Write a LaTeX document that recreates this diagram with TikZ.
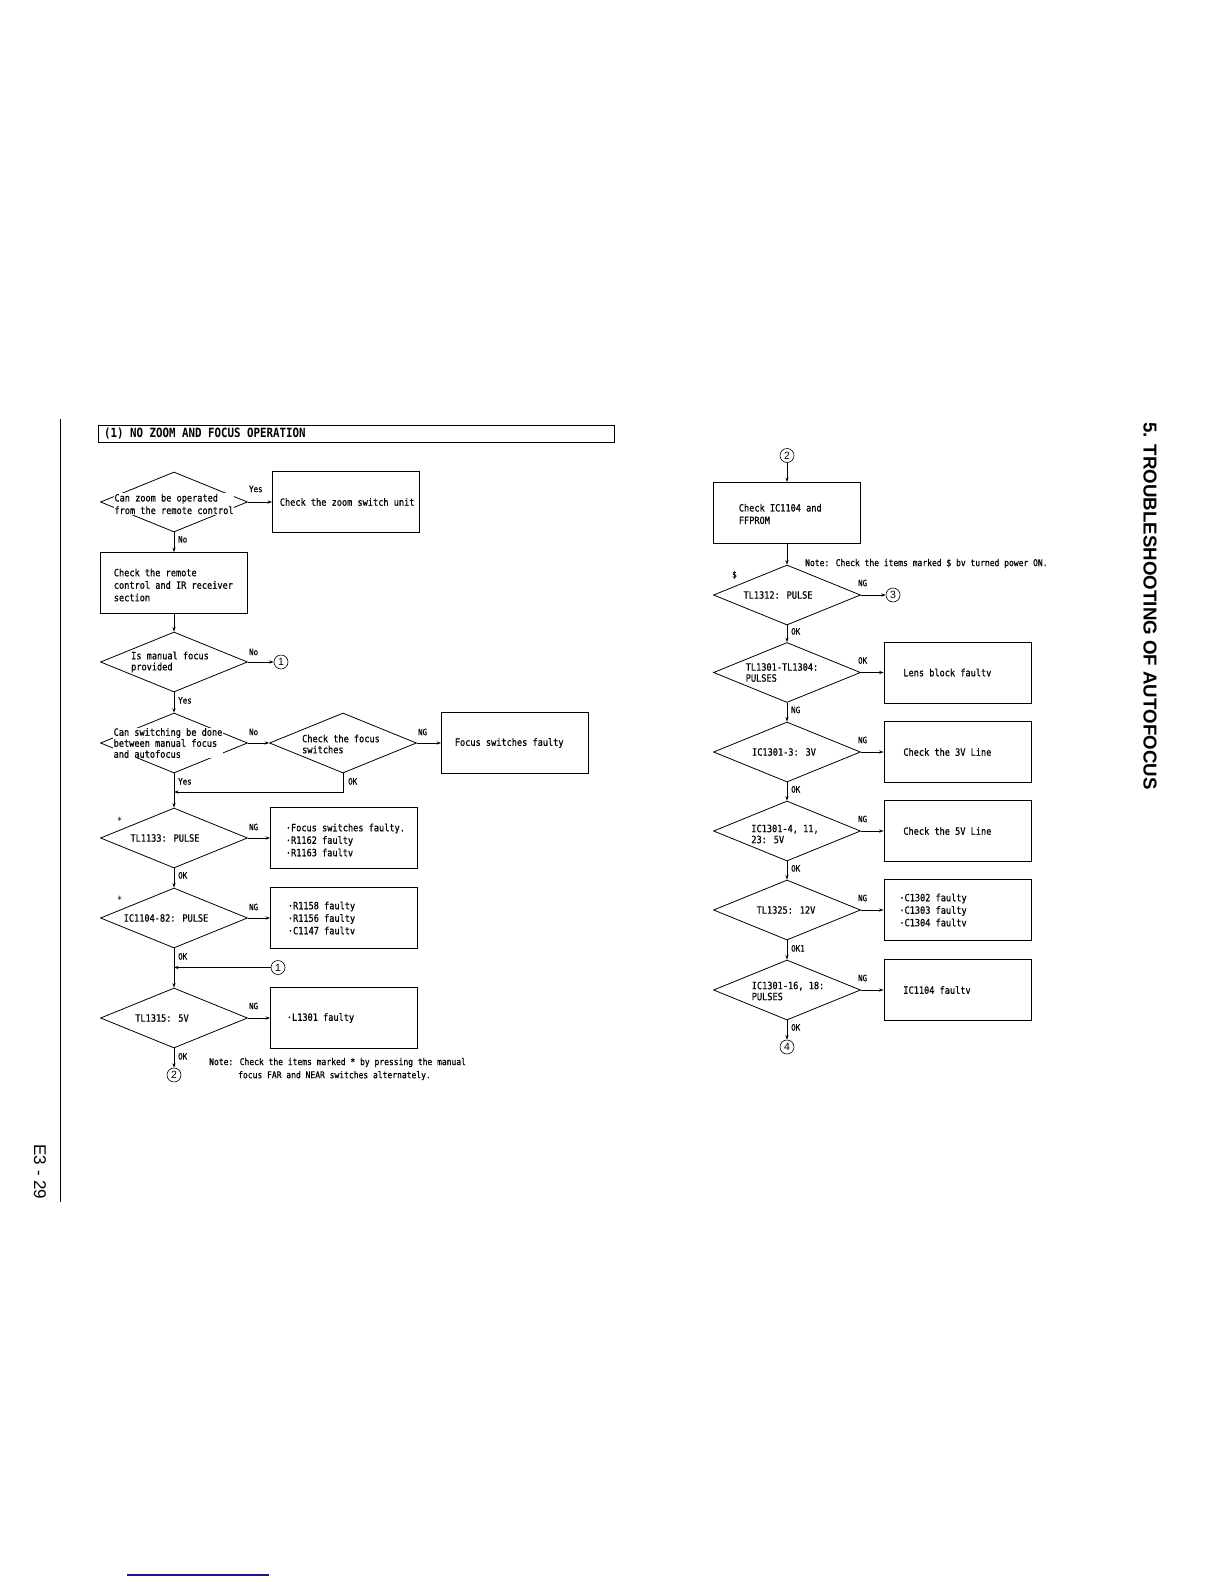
\documentclass[tikz,border=0pt]{standalone}
\usepackage{fontspec}
\newfontfamily\monof[FakeStretch=0.86,FakeBold=0.6]{DejaVu Sans Mono}
\newfontfamily\titlef[FakeStretch=0.85]{DejaVu Sans Mono}
\newfontfamily\sidef{Liberation Sans}
\usetikzlibrary{shapes.geometric,arrows.meta,calc}
\definecolor{linkblue}{RGB}{25,25,140}
\begin{document}
\begin{tikzpicture}[x=1pt,y=-1pt,
  dia/.style={draw, diamond, minimum width=147pt, minimum height=60pt, inner sep=0pt, line width=0.8pt},
  box/.style={draw, rectangle, minimum width=147pt, minimum height=61pt, inner sep=0pt, line width=0.9pt},
  txt/.style={font=\monof\fontsize{10}{12.5}\selectfont, align=left, inner sep=0.6pt},
  txtt/.style={font=\monof\fontsize{10}{11}\selectfont, align=left, inner sep=0.6pt},
  dtxt/.style={txt, fill=white},
  dtxtt/.style={txtt, fill=white},
  notetxt/.style={font=\monof\fontsize{9.3}{10}\selectfont, inner sep=0pt, anchor=west},
  lbl/.style={font=\monof\fontsize{8.7}{9}\selectfont, inner sep=0pt, anchor=west},
  starmark/.style={font=\titlef\fontsize{10}{10}\selectfont, inner sep=0pt, anchor=west},
  circ/.style={draw, circle, minimum size=14pt, inner sep=0pt, line width=0.6pt, font=\sidef\fontsize{10.5}{10.5}\selectfont},
  arr/.style={-{Stealth[length=4.5pt,width=3.2pt]}, line width=0.7pt}
]
\useasboundingbox (0,0) rectangle (1224,1584);

% page furniture
\draw[line width=1.3pt] (60.6,419) -- (60.6,1202);
\node[rotate=-90, font=\sidef\bfseries\fontsize{18.7}{20}\selectfont, inner sep=0pt] (side) at (1150,606) {5. TROUBLESHOOTING OF AUTOFOCUS};
\node[rotate=-90, font=\sidef\fontsize{17}{18}\selectfont, inner sep=0pt] (page) at (40,1172) {E3 - 29};
\draw[linkblue, line width=1.4pt] (127,1575) -- (269,1575);

% title
\node[draw, line width=1pt, minimum width=516pt, minimum height=17pt, anchor=north west, inner sep=0pt] (titlebox) at (98,425) {};
\node[anchor=west, font=\titlef\bfseries\fontsize{12.7}{13}\selectfont, inner sep=0pt] (title) at (104,434) {(1) NO ZOOM AND FOCUS OPERATION};

% ---------- left column ----------
\node[dia] (d1) at (174,502) {};
\node[dtxt] (td1) at ($(d1.center)+(0,2)$) {Can zoom be operated\\from the remote control};
\node[box] (b1) at (346,502) {};
\node[txt, anchor=west] (tb1) at ($(b1.west)+(7,0)$) {Check the zoom switch unit};

\node[box] (b2) at (174,583) {};
\node[txt, anchor=west] (tb2) at ($(b2.west)+(13,2)$) {Check the remote\\control and IR receiver\\section};

\node[dia] (d2) at (174,662) {};
\node[dtxtt] (td2) at ($(d2.center)+(-4,0)$) {Is manual focus\\provided};
\node[circ] (c1a) at (281,662) {1};

\node[dia] (d3) at (174,743) {};
\node[dtxtt] (td3) at ($(d3.center)+(-6,0)$) {Can switching be done\\between manual focus\\and autofocus};

\node[dia] (d4) at (343,743) {};
\node[dtxtt] (td4) at ($(d4.center)+(-2,1)$) {Check the focus\\switches};
\node[box] (b3) at (515,743) {};
\node[txt, anchor=west] (tb3) at ($(b3.west)+(13,0)$) {Focus switches faulty};
\coordinate (k1) at (343,792);
\coordinate (k2) at (174,792);

\node[dia] (d5) at (174,838) {};
\node[dtxt] (td5) at ($(d5.center)+(-9,0)$) {TL1133: PULSE};
\node[starmark] (s5) at (117,821) {*};
\node[box] (b5) at (344,838) {};
\node[txt, anchor=west] (tb5) at ($(b5.west)+(15,2)$) {·Focus switches faulty.\\·R1162 faulty\\·R1163 faultv};

\node[dia] (d6) at (174,918) {};
\node[dtxt] (td6) at ($(d6.center)+(-8,0)$) {IC1104-82: PULSE};
\node[starmark] (s6) at (117,900) {*};
\node[box] (b6) at (344,918) {};
\node[txt, anchor=west] (tb6) at ($(b6.west)+(17,0)$) {·R1158 faulty\\·R1156 faulty\\·C1147 faultv};

\node[circ] (c1b) at (278,967.5) {1};
\coordinate (j1) at (174,967.5);

\node[dia] (d7) at (174,1018) {};
\node[dtxt] (td7) at ($(d7.center)+(-12,0)$) {TL1315: 5V};
\node[box] (b7) at (344,1018) {};
\node[txt, anchor=west] (tb7) at ($(b7.west)+(16,0)$) {·L1301 faulty};
\node[circ] (c2a) at (174,1075) {2};

\node[notetxt] (n1a) at (209,1062.5) {Note: Check the items marked * by pressing the manual};
\node[notetxt] (n1b) at (238,1075.6) {focus FAR and NEAR switches alternately.};

% left connectors
\draw[arr] (d1.east) -- (b1.west);
\draw[arr] (d1.south) -- (b2.north);
\draw[arr] (b2.south) -- (d2.north);
\draw[arr] (d2.east) -- (c1a.west);
\draw[arr] (d2.south) -- (d3.north);
\draw[arr] (d3.east) -- (d4.west);
\draw[arr] (d4.east) -- (b3.west);
\draw[arr] (d4.south) -- (k1) -- (k2);
\draw[arr] (d3.south) -- (d5.north);
\draw[arr] (d5.east) -- (b5.west);
\draw[arr] (d5.south) -- (d6.north);
\draw[arr] (d6.east) -- (b6.west);
\draw[arr] (d6.south) -- (d7.north);
\draw[arr] (c1b.west) -- (j1);
\draw[arr] (d7.east) -- (b7.west);
\draw[arr] (d7.south) -- (c2a.north);

% left labels
\node[lbl] (l1) at ($(d1.east)+(1,-13)$) {Yes};
\node[lbl] (l2) at ($(d1.south)+(4,7)$) {No};
\node[lbl] (l3) at ($(d2.east)+(1,-10)$) {No};
\node[lbl] (l4) at ($(d2.south)+(4,8)$) {Yes};
\node[lbl] (l5) at ($(d3.east)+(1,-11)$) {No};
\node[lbl] (l6) at ($(d4.east)+(1,-11)$) {NG};
\node[lbl] (l7) at ($(d4.south)+(5,8)$) {OK};
\node[lbl] (l8) at ($(d3.south)+(4,8)$) {Yes};
\node[lbl] (l9) at ($(d5.east)+(1,-11)$) {NG};
\node[lbl] (l10) at ($(d5.south)+(4,7)$) {OK};
\node[lbl] (l11) at ($(d6.east)+(1,-11)$) {NG};
\node[lbl] (l12) at ($(d6.south)+(4,8)$) {OK};
\node[lbl] (l13) at ($(d7.east)+(1,-12)$) {NG};
\node[lbl] (l14) at ($(d7.south)+(4,8)$) {OK};

% ---------- right column ----------
\node[circ] (c2b) at (787,455.5) {2};
\node[box] (b0) at (787,513) {};
\node[txt, anchor=west] (tb0) at ($(b0.west)+(25,1)$) {Check IC1104 and\\FFPROM};

\node[dia] (d8) at (787,595) {};
\node[dtxt] (td8) at ($(d8.center)+(-9,0)$) {TL1312: PULSE};
\node[lbl] (s8) at (732,575) {\$};
\node[circ] (c3) at (893,595) {3};
\node[notetxt] (n2) at (805,563.5) {Note: Check the items marked \$ bv turned power ON.};

\node[dia] (d9) at (787,672.5) {};
\node[dtxtt] (td9) at ($(d9.center)+(-5,0)$) {TL1301-TL1304:\\PULSES};
\node[box] (b9) at (957.5,672.5) {};
\node[txt, anchor=west] (tb9) at ($(b9.west)+(19,0)$) {Lens block faultv};

\node[dia] (d10) at (787,752) {};
\node[dtxt] (td10) at ($(d10.center)+(-3,0)$) {IC1301-3: 3V};
\node[box] (b10) at (957.5,752) {};
\node[txt, anchor=west] (tb10) at ($(b10.west)+(19,0)$) {Check the 3V Line};

\node[dia] (d11) at (787,831) {};
\node[dtxtt] (td11) at ($(d11.center)+(-2,3)$) {IC1301-4, 11,\\23: 5V};
\node[box] (b11) at (957.5,831) {};
\node[txt, anchor=west] (tb11) at ($(b11.west)+(19,0)$) {Check the 5V Line};

\node[dia] (d12) at (787,910) {};
\node[dtxt] (td12) at ($(d12.center)+(-1,0)$) {TL1325: 12V};
\node[box] (b12) at (957.5,910) {};
\node[txt, anchor=west] (tb12) at ($(b12.west)+(15,0)$) {·C1302 faulty\\·C1303 faulty\\·C1304 faultv};

\node[dia] (d13) at (787,990) {};
\node[dtxtt] (td13) at ($(d13.center)+(1,1)$) {IC1301-16, 18:\\PULSES};
\node[box] (b13) at (957.5,990) {};
\node[txt, anchor=west] (tb13) at ($(b13.west)+(19,0)$) {IC1104 faultv};
\node[circ] (c4) at (787,1047) {4};

% right connectors
\draw[arr] (c2b.south) -- (b0.north);
\draw[arr] (b0.south) -- (d8.north);
\draw[arr] (d8.east) -- (c3.west);
\draw[arr] (d8.south) -- (d9.north);
\draw[arr] (d9.east) -- (b9.west);
\draw[arr] (d9.south) -- (d10.north);
\draw[arr] (d10.east) -- (b10.west);
\draw[arr] (d10.south) -- (d11.north);
\draw[arr] (d11.east) -- (b11.west);
\draw[arr] (d11.south) -- (d12.north);
\draw[arr] (d12.east) -- (b12.west);
\draw[arr] (d12.south) -- (d13.north);
\draw[arr] (d13.east) -- (b13.west);
\draw[arr] (d13.south) -- (c4.north);

% right labels
\node[lbl] (r1) at ($(d8.east)+(-3,-12)$) {NG};
\node[lbl] (r2) at ($(d8.south)+(4,6)$) {OK};
\node[lbl] (r3) at ($(d9.east)+(-3,-12)$) {OK};
\node[lbl] (r4) at ($(d9.south)+(4,7)$) {NG};
\node[lbl] (r5) at ($(d10.east)+(-3,-12)$) {NG};
\node[lbl] (r6) at ($(d10.south)+(4,7)$) {OK};
\node[lbl] (r7) at ($(d11.east)+(-3,-12)$) {NG};
\node[lbl] (r8) at ($(d11.south)+(4,7)$) {OK};
\node[lbl] (r9) at ($(d12.east)+(-3,-12)$) {NG};
\node[lbl] (r10) at ($(d12.south)+(4,8)$) {OK1};
\node[lbl] (r11) at ($(d13.east)+(-3,-12)$) {NG};
\node[lbl] (r12) at ($(d13.south)+(4,7)$) {OK};
\end{tikzpicture}
\end{document}
